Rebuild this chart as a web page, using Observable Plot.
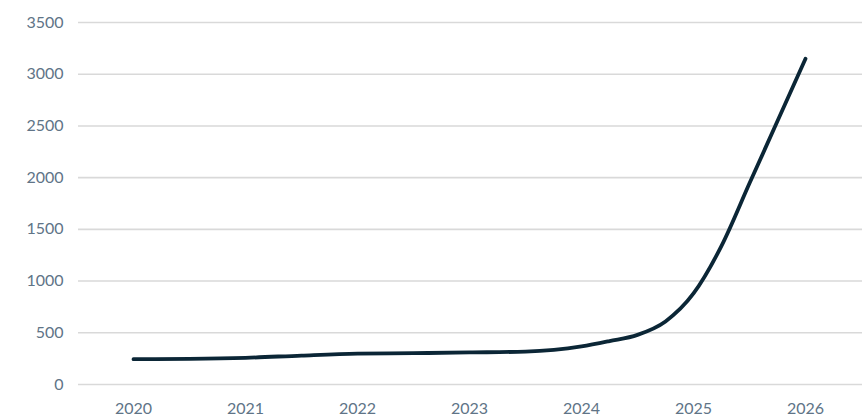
<!DOCTYPE html>
<html>
<head>
<meta charset="utf-8">
<script src="https://cdn.jsdelivr.net/npm/d3@7"></script>
<script src="https://cdn.jsdelivr.net/npm/@observablehq/plot@0.6"></script>
<style>
  html, body { margin: 0; padding: 0; background: #fff; }
  #chart svg { font-family: Lato, "Open Sans", sans-serif; }
</style>
</head>
<body>
<div id="chart"></div>
<script>
const years = [2020, 2020.5, 2021, 2021.5, 2022, 2022.5, 2023, 2023.5, 2024, 2024.25, 2024.5, 2024.75, 2025, 2025.25, 2025.5, 2025.75, 2026];
const values = [245, 248, 258, 280, 298, 303, 310, 318, 368, 420, 480, 610, 880, 1340, 1945, 2548, 3150];
const yTicks = [0, 500, 1000, 1500, 2000, 2500, 3000, 3500];
const xTicks = [2020, 2021, 2022, 2023, 2024, 2025, 2026];

const data = years.map((x, i) => ({x, y: values[i]}));

const chart = Plot.plot({
  width: 865,
  height: 418,
  marginLeft: 78,
  marginRight: 3,
  marginTop: 22,
  marginBottom: 34,
  style: {fontFamily: "Lato, sans-serif", fontSize: "16px", color: "#607487", background: "#fff"},
  x: {domain: [2020, 2026], insetLeft: 55, insetRight: 57},
  y: {domain: [0, 3500]},
  marks: [
    Plot.ruleY(yTicks, {stroke: "#d9d9d9", strokeWidth: 1.6}),
    Plot.axisY({ticks: yTicks, tickSize: 0, tickPadding: 15, tickFormat: d => String(d), label: null, fill: "#607487"}),
    Plot.axisX({ticks: xTicks, tickSize: 0, tickPadding: 18, tickFormat: d => String(d), label: null, fill: "#607487"}),
    Plot.line(data, {x: "x", y: "y", curve: "monotone-x", stroke: "#0b2636", strokeWidth: 3.8, strokeLinecap: "round"})
  ]
});
document.getElementById("chart").appendChild(chart);
</script>
</body>
</html>
